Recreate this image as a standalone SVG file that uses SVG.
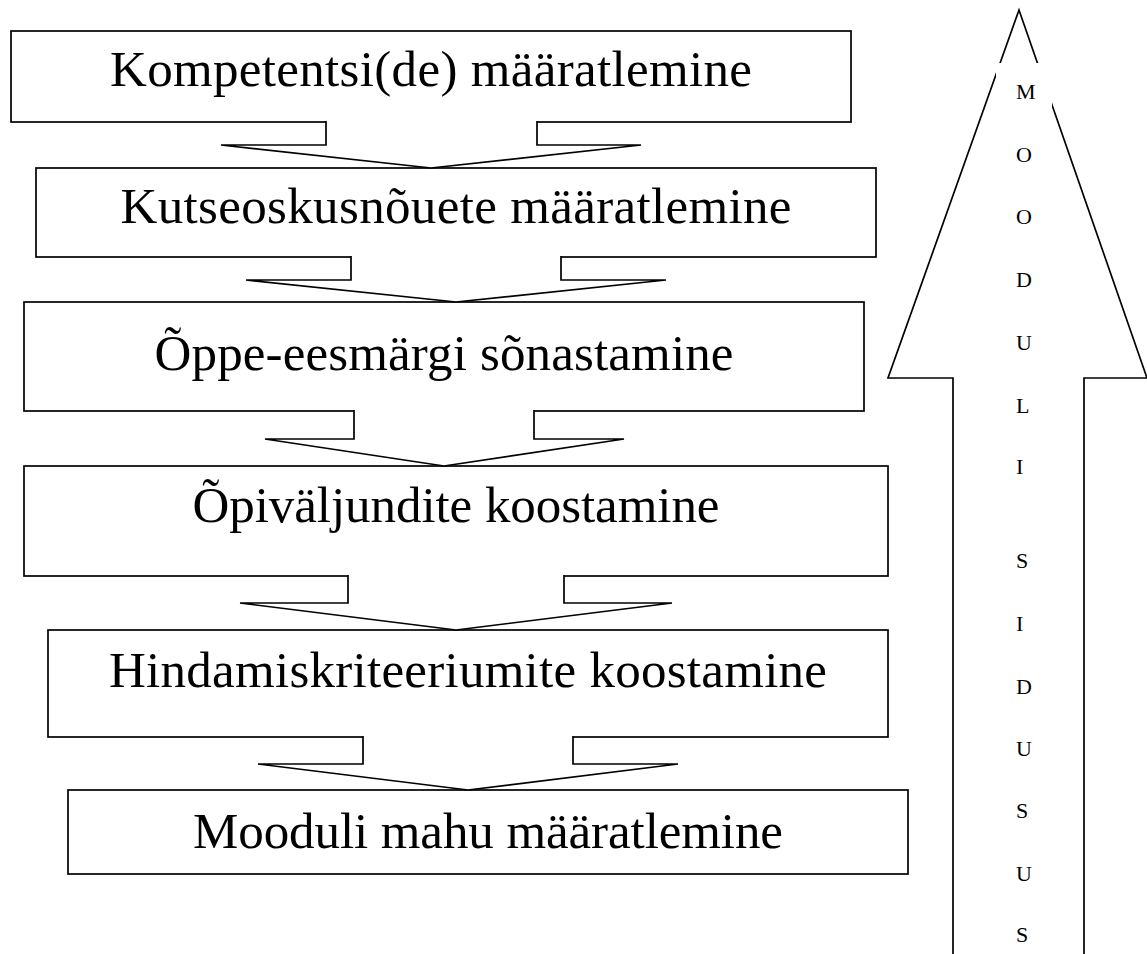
<svg xmlns="http://www.w3.org/2000/svg" width="1147" height="954" viewBox="0 0 1147 954">
<style>
.box{fill:#fff;stroke:#000;stroke-width:1.7}
.con{fill:#fff;stroke:#000;stroke-width:1.7;stroke-linejoin:miter}
.lbl{font-family:"Liberation Serif","DejaVu Serif",serif;font-size:51px;fill:#000;text-anchor:middle}
.ch{font-family:"Liberation Serif","DejaVu Serif",serif;font-size:22px;fill:#000}
</style>
<rect width="1147" height="954" fill="#fff"/>
<g id="n1"><rect class="box" x="11" y="31" width="840" height="91"/><text class="lbl" x="431" y="86" textLength="642">Kompetentsi(de) määratlemine</text></g>
<g id="n2"><rect class="box" x="36" y="168" width="840" height="89"/><text class="lbl" x="456" y="223" textLength="671">Kutseoskusnõuete määratlemine</text></g>
<g id="n3"><rect class="box" x="24" y="302" width="840" height="109"/><text class="lbl" x="444" y="370" textLength="579">Õppe-eesmärgi sõnastamine</text></g>
<g id="n4"><rect class="box" x="24" y="466" width="864" height="110"/><text class="lbl" x="456" y="522" textLength="527">Õpiväljundite koostamine</text></g>
<g id="n5"><rect class="box" x="48" y="630" width="840" height="107"/><text class="lbl" x="468" y="687" textLength="718">Hindamiskriteeriumite koostamine</text></g>
<g id="n6"><rect class="box" x="68" y="790" width="840" height="84"/><text class="lbl" x="488" y="848" textLength="590">Mooduli mahu määratlemine</text></g>
<g id="connectors">
<path class="con" d="M326,121 V145 H221 L431,168 L641,145 H537 V121"/>
<path class="con" d="M351,256 V280 H246 L456,302 L666,280 H561 V256"/>
<path class="con" d="M354,410 V439 H265 L444,466 L624,439 H534 V410"/>
<path class="con" d="M348,575 V603 H240 L456,630 L672,603 H564 V575"/>
<path class="con" d="M363,736 V764 H258 L468,790 L678,764 H573 V736"/>
</g>
<g id="side-arrow">
<path class="con" d="M953,956 V378 H888 L1019,10 L1147,378 H1084 V956"/>
<rect x="996" y="63" width="56" height="893" fill="#fff"/>
<text class="ch" x="1016" y="99">M</text>
<text class="ch" x="1016" y="162">O</text>
<text class="ch" x="1016" y="224">O</text>
<text class="ch" x="1016" y="287">D</text>
<text class="ch" x="1016" y="350">U</text>
<text class="ch" x="1016" y="413">L</text>
<text class="ch" x="1016" y="474">I</text>
<text class="ch" x="1016" y="568">S</text>
<text class="ch" x="1016" y="631">I</text>
<text class="ch" x="1016" y="694">D</text>
<text class="ch" x="1016" y="756">U</text>
<text class="ch" x="1016" y="818">S</text>
<text class="ch" x="1016" y="881">U</text>
<text class="ch" x="1016" y="942">S</text>
</g>
</svg>
